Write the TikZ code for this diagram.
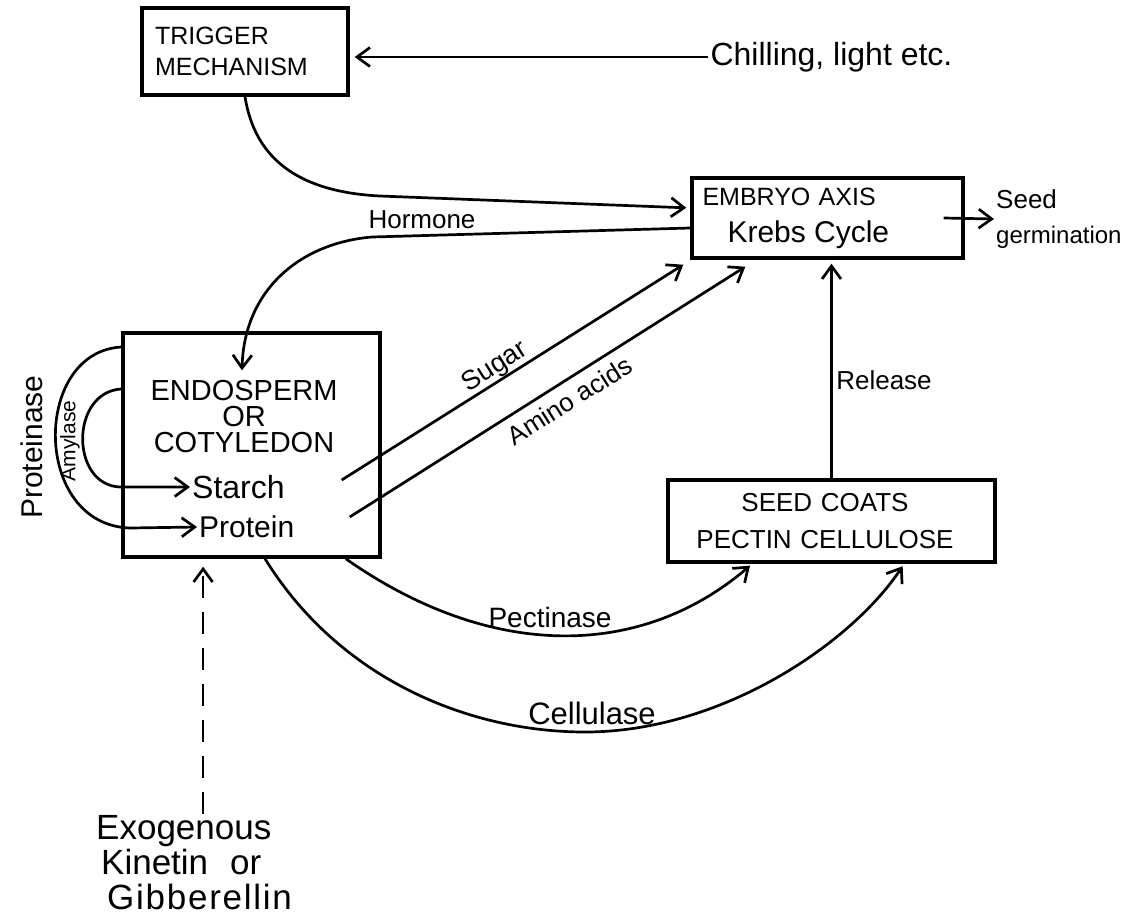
\documentclass[tikz,border=0pt]{standalone}
\usepackage{fontspec}
\setmainfont{Liberation Sans}
\usetikzlibrary{arrows.meta}
\newcommand\setfs[2]{\fontsize{#1}{#2}\selectfont}
\begin{document}
\begin{tikzpicture}[x=1pt,y=-1pt,
  box/.style={draw, line width=3.4pt, inner sep=0pt},
  conn/.style={line width=2.7pt},
  arr/.style={conn, -{Straight Barb[length=13pt,width=19pt]}},
  lbl/.style={inner sep=2pt}]
\useasboundingbox (0,0) rectangle (1132,919);

% boxes
\node[box, minimum width=206pt, minimum height=87pt, align=left, text width=180pt,
  font=\setfs{25}{31}] (trigger) at (245,51.5) {TRIGGER\\MECHANISM};
\node[box, minimum width=271pt, minimum height=80pt, align=left, text width=250pt,
  font=\setfs{25}{37}] (embryo) at (827.5,218)
  {EMBRYO AXIS\\\hspace*{25pt}{\setfs{30}{37}Krebs Cycle}};
\node[box, minimum width=257pt, minimum height=224pt] (endo) at (251.5,445) {};
\node[box, minimum width=327pt, minimum height=82pt, align=center, text width=300pt,
  font=\setfs{26}{37}] (seed) at (831.5,521) {\hspace*{-13pt}SEED COATS\\\hspace*{-13pt}PECTIN CELLULOSE};

% texts
\node[lbl, align=center, font=\setfs{29}{26}] (endotitle) at (244,417) {ENDOSPERM\\OR\\COTYLEDON};
\node[lbl, anchor=west, font=\setfs{32}{36}] (starch) at (190,487) {Starch};
\node[lbl, anchor=west, font=\setfs{30}{36}] (protein) at (197,527) {Protein};
\node[lbl, font=\setfs{32}{36}] (chill) at (831.5,57) {Chilling, light etc.};
\node[lbl, anchor=west, align=left, font=\setfs{24}{35}] (germ) at (994,219)
  {{\setfs{26}{35}Seed}\\germination};
\node[lbl, anchor=west, align=left, font=\setfs{35}{35}] (exo) at (94,863)
  {Exogenous\\\hspace*{5pt}Kinetin\hspace*{22pt}or\\\hspace*{11pt}{\addfontfeatures{LetterSpace=5}Gibberellin}};

\node[lbl, font=\setfs{26}{30}] (hormone) at (422,220) {Hormone};
\node[lbl, font=\setfs{26}{30}] (releaselbl) at (884,380) {Release};
\node[lbl, font=\setfs{28}{30}] (pectlbl) at (550,617) {Pectinase};
\node[lbl, font=\setfs{31}{30}] (celllbl) at (592,713) {Cellulase};
\node[lbl, rotate=90, font=\setfs{30}{30}] (protlbl) at (32,447) {Proteinase};
\node[lbl, rotate=90, font=\setfs{21}{30}] (amylbl) at (70,441) {Amylase};

% connectors
\draw[arr, shorten >=5pt] (chill.west) -- (trigger.east |- chill.west);
\draw[arr, shorten >=4pt] (trigger.south) .. controls (255,160) and (300,192) .. (380,196)
  -- ([yshift=10pt]embryo.west);
\draw[arr] ([yshift=-10pt]embryo.west) -- (372,237) .. controls (300,243) and (244,290)
  .. ([xshift=-9.5pt,yshift=-39pt]endo.north);
\draw[arr] ([xshift=-40pt,yshift=-35pt]endo.east) -- ([xshift=-7pt,yshift=-5pt]embryo.south west)
  node[sloped, above, pos=0.47, inner sep=0pt, font=\setfs{27}{30}] (sugarlbl) {Sugar};
\draw[arr] ([xshift=-32pt,yshift=-72pt]endo.east) -- ([xshift=55pt,yshift=-7pt]embryo.south west)
  node[sloped, below, pos=0.53, inner sep=8pt, font=\setfs{26}{30}] (aminolbl) {Amino acids};
\draw[arr, shorten >=4pt] (seed.north) -- (seed.north |- embryo.south);
\draw[arr, shorten >=3pt] ([xshift=-36pt]endo.south east) .. controls (490,660) and (640,660)
  .. ([xshift=86pt]seed.south west);
\draw[arr, shorten >=3pt] ([xshift=13.5pt]endo.south) .. controls (340,680) and (470,732) .. (585,732)
  .. controls (720,732) and (850,645) .. ([xshift=238pt]seed.south west);
\draw[arr] ([yshift=56pt]endo.west) .. controls (70,392) and (70,485) .. (120,487) -- (starch.west);
\draw[arr] ([yshift=98pt]endo.west) .. controls (32,352) and (32,525) .. (130,528) -- (protein.west);
\draw[arr, shorten >=8pt, dash pattern=on 22pt off 14pt] ([xshift=9pt]exo.north)
  -- ([xshift=9pt]exo.north |- endo.south);
\draw[arr] ([xshift=-21pt]embryo.east) -- (germ.west);
\end{tikzpicture}
\end{document}
